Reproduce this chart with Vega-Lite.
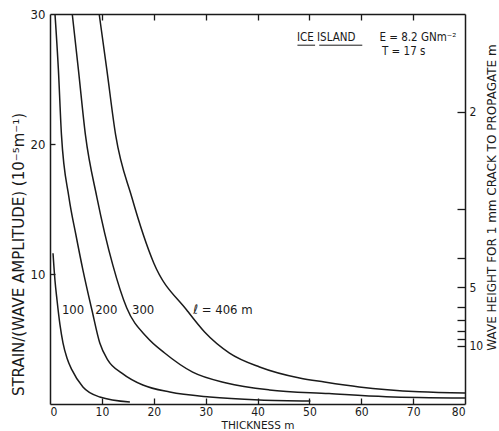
{
  "$schema": "https://vega.github.io/schema/vega-lite/v6.json",
  "width": 415,
  "height": 390,
  "autosize": "none",
  "padding": {"left": 50, "top": 14, "right": 34, "bottom": 27},
  "background": "white",
  "config": {
    "view": {"stroke": null},
    "axis": {
      "grid": false,
      "domainColor": "#1a1a1a",
      "domainWidth": 1.5,
      "tickColor": "#1a1a1a",
      "tickWidth": 1.3,
      "labelColor": "#1a1a1a",
      "titleColor": "#1a1a1a",
      "labelFont": "Liberation Sans Narrow, DejaVu Sans Condensed, sans-serif",
      "titleFont": "DejaVu Sans, sans-serif",
      "titleFontWeight": "normal"
    }
  },
  "datasets": {
    "curves": [
      {"series": "100", "x": 0.58, "y": 11.6},
      {"series": "100", "x": 0.96, "y": 9.5},
      {"series": "100", "x": 1.35, "y": 8.0},
      {"series": "100", "x": 1.92, "y": 6.1},
      {"series": "100", "x": 2.5, "y": 4.7},
      {"series": "100", "x": 3.27, "y": 3.54},
      {"series": "100", "x": 4.23, "y": 2.62},
      {"series": "100", "x": 6.35, "y": 1.31},
      {"series": "100", "x": 9.6, "y": 0.54},
      {"series": "100", "x": 15.4, "y": 0.15},
      {"series": "200", "x": 0.96, "y": 30.0},
      {"series": "200", "x": 1.62, "y": 25.7},
      {"series": "200", "x": 2.21, "y": 20.7},
      {"series": "200", "x": 3.65, "y": 15.9},
      {"series": "200", "x": 5.0, "y": 13.0},
      {"series": "200", "x": 6.35, "y": 10.3},
      {"series": "200", "x": 8.08, "y": 7.23},
      {"series": "200", "x": 9.6, "y": 4.69},
      {"series": "200", "x": 11.15, "y": 3.38},
      {"series": "200", "x": 13.85, "y": 2.38},
      {"series": "200", "x": 17.9, "y": 1.46},
      {"series": "200", "x": 23.1, "y": 0.92},
      {"series": "200", "x": 30.8, "y": 0.54},
      {"series": "200", "x": 40.4, "y": 0.31},
      {"series": "200", "x": 50.2, "y": 0.23},
      {"series": "300", "x": 4.29, "y": 30.0},
      {"series": "300", "x": 5.48, "y": 25.7},
      {"series": "300", "x": 6.83, "y": 20.7},
      {"series": "300", "x": 9.04, "y": 15.9},
      {"series": "300", "x": 12.1, "y": 10.7},
      {"series": "300", "x": 14.8, "y": 7.38},
      {"series": "300", "x": 18.65, "y": 5.15},
      {"series": "300", "x": 22.1, "y": 3.92},
      {"series": "300", "x": 27.5, "y": 2.45},
      {"series": "300", "x": 34.0, "y": 1.62},
      {"series": "300", "x": 42.3, "y": 1.08},
      {"series": "300", "x": 53.8, "y": 0.8},
      {"series": "300", "x": 64.8, "y": 0.56},
      {"series": "300", "x": 80.0, "y": 0.46},
      {"series": "406", "x": 9.48, "y": 30.0},
      {"series": "406", "x": 10.96, "y": 25.7},
      {"series": "406", "x": 12.65, "y": 20.7},
      {"series": "406", "x": 15.77, "y": 15.9},
      {"series": "406", "x": 20.0, "y": 10.85},
      {"series": "406", "x": 26.35, "y": 7.23},
      {"series": "406", "x": 29.8, "y": 5.54},
      {"series": "406", "x": 34.6, "y": 3.92},
      {"series": "406", "x": 40.4, "y": 2.85},
      {"series": "406", "x": 48.1, "y": 2.0},
      {"series": "406", "x": 52.9, "y": 1.69},
      {"series": "406", "x": 59.6, "y": 1.31},
      {"series": "406", "x": 71.2, "y": 0.94},
      {"series": "406", "x": 80.0, "y": 0.85}
    ],
    "curveLabels": [
      {"x": 2.3, "y": 6.9, "text": "100"},
      {"x": 8.7, "y": 6.9, "text": "200"},
      {"x": 15.8, "y": 6.9, "text": "300"},
      {"x": 27.6, "y": 6.9, "text": "ℓ = 406  m"}
    ],
    "notes": [
      {"x": 47.6, "y": 27.9, "text": "ICE ISLAND"},
      {"x": 63.5, "y": 27.9, "text": "E = 8.2 GNm⁻²"},
      {"x": 64.0, "y": 26.85, "text": "T = 17 s"}
    ],
    "underlines": [
      {"x": 47.7, "x2": 51.1, "y": 27.6},
      {"x": 51.9, "x2": 60.2, "y": 27.6}
    ]
  },
  "layer": [
    {
      "data": {"name": "curves"},
      "mark": {"type": "line", "interpolate": "monotone", "color": "#1a1a1a", "strokeWidth": 1.5},
      "encoding": {
        "x": {
          "field": "x", "type": "quantitative",
          "scale": {"domain": [0, 80], "nice": false, "zero": false},
          "axis": {
            "orient": "bottom", "values": [0, 10, 20, 30, 40, 50, 60, 70, 80],
            "ticks": false, "labelPadding": 2, "labelFontSize": 12,
            "title": "THICKNESS  m", "titleFontSize": 10.5, "titleY": 24.5, "titleBaseline": "alphabetic"
          }
        },
        "y": {
          "field": "y", "type": "quantitative",
          "scale": {"domain": [0, 30], "nice": false, "zero": false},
          "axis": {
            "orient": "left", "values": [10, 20, 30],
            "ticks": false, "labelPadding": 5, "labelFontSize": 13,
            "title": "STRAIN/(WAVE AMPLITUDE) (10⁻⁵m⁻¹)", "titleFontSize": 15,
            "titleAngle": 270, "titleX": -32, "titleY": 240, "titleAlign": "center", "titleBaseline": "middle"
          }
        },
        "detail": {"field": "series"}
      }
    },
    {
      "data": {"name": "curveLabels"},
      "mark": {"type": "text", "align": "left", "baseline": "alphabetic", "fontSize": 13, "font": "Liberation Sans Narrow, DejaVu Sans Condensed, sans-serif", "color": "#1a1a1a"},
      "encoding": {
        "x": {
          "field": "x", "type": "quantitative",
          "scale": {"domain": [0, 80], "nice": false, "zero": false},
          "axis": {"orient": "top", "ticks": false, "labels": false, "title": null}
        },
        "y": {
          "field": "y", "type": "quantitative",
          "scale": {"domain": [0, 30], "nice": false, "zero": false},
          "axis": {
            "orient": "right",
            "values": [22.5, 9, 4.5],
            "labelExpr": "datum.value == 22.5 ? '2' : datum.value == 9 ? '5' : '10'",
            "ticks": false, "labelPadding": 4, "labelFontSize": 12,
            "title": "WAVE HEIGHT FOR 1 mm CRACK TO PROPAGATE       m", "titleFontSize": 12,
            "titleAngle": 270, "titleX": 26, "titleY": 183, "titleAlign": "center", "titleBaseline": "middle"
          }
        },
        "text": {"field": "text"}
      }
    },
    {
      "data": {"name": "notes"},
      "mark": {"type": "text", "align": "left", "baseline": "alphabetic", "fontSize": 11.5, "font": "Liberation Sans Narrow, DejaVu Sans Condensed, sans-serif", "color": "#1a1a1a"},
      "encoding": {
        "x": {
          "field": "x", "type": "quantitative",
          "axis": {"orient": "top", "offset": -390, "values": [10, 20, 30, 40, 50, 60, 70], "domain": false, "labels": false, "tickSize": 6, "title": null}
        },
        "y": {
          "field": "y", "type": "quantitative",
          "axis": {"orient": "right", "offset": -415, "values": [10, 20], "domain": false, "labels": false, "tickSize": 5, "title": null}
        },
        "text": {"field": "text"}
      }
    },
    {
      "data": {"name": "underlines"},
      "mark": {"type": "rule", "color": "#1a1a1a", "strokeWidth": 1},
      "encoding": {
        "x": {
          "field": "x", "type": "quantitative",
          "axis": {"orient": "bottom", "offset": -390, "values": [10, 20, 30, 40, 50, 60, 70], "domain": false, "labels": false, "tickSize": 6, "title": null}
        },
        "x2": {"field": "x2"},
        "y": {
          "field": "y", "type": "quantitative",
          "axis": {"orient": "left", "offset": -415, "values": [22.5, 15, 11.25, 9, 7.5, 6.4286, 5.625, 5, 4.5], "domain": false, "labels": false, "tickSize": 8, "title": null}
        }
      }
    }
  ],
  "resolve": {"axis": {"x": "independent", "y": "independent"}}
}
